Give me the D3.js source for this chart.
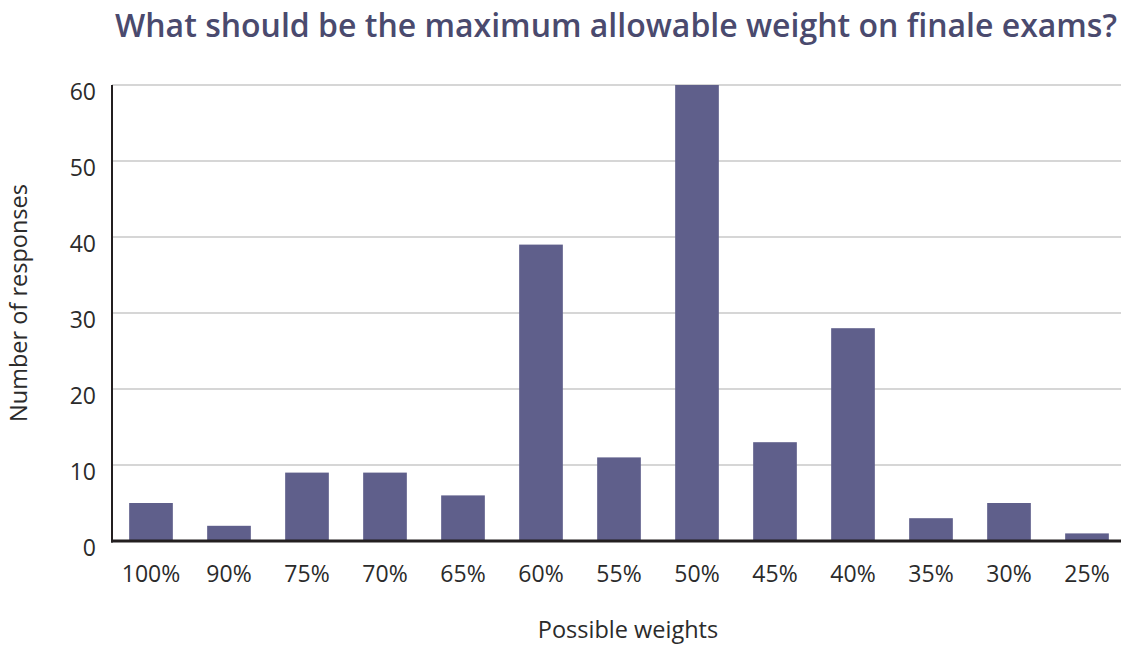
<!DOCTYPE html>
<html>
  <head>
    <meta charset="utf-8">
    <script src="https://d3js.org/d3.v7.min.js"></script>
    <style>
      body { margin: 0; background: #fff; }
      text { font-family: "Open Sans", sans-serif; }
    </style>
  </head>
  <body>
  <script>
    var categories = ['100%', '90%', '75%', '70%', '65%', '60%', '55%', '50%', '45%', '40%', '35%', '30%', '25%'];
    var responses = [5, 2, 9, 9, 6, 39, 11, 60, 13, 28, 3, 5, 1];
    var yTicks = [0, 10, 20, 30, 40, 50, 60];

    var width = 1121;
    var height = 645;
    var margin = {top: 85, right: 0, bottom: 104, left: 112};

    var svg = d3.select('body').append('svg')
      .attr('width', width)
      .attr('height', height);

    var x = d3.scaleBand()
      .domain(categories)
      .range([margin.left, margin.left + 78 * categories.length])
      .paddingInner(0.44)
      .paddingOuter(0.22);

    var y = d3.scaleLinear()
      .domain([0, 60])
      .range([height - margin.bottom, margin.top]);

    // gridlines
    svg.append('g')
      .selectAll('line')
      .data(yTicks.filter(function(d) { return d > 0; }))
      .enter().append('line')
      .attr('x1', margin.left)
      .attr('x2', width)
      .attr('y1', function(d) { return y(d); })
      .attr('y2', function(d) { return y(d); })
      .style('stroke', '#d6d6d6')
      .style('stroke-width', 2);

    // bars
    svg.append('g')
      .selectAll('rect')
      .data(responses)
      .enter().append('rect')
      .attr('x', function(d, i) { return x(categories[i]); })
      .attr('width', x.bandwidth())
      .attr('y', function(d) { return y(d); })
      .attr('height', function(d) { return y(0) - y(d); })
      .style('fill', '#5f5f8b');

    // axes lines
    svg.append('line')
      .attr('x1', margin.left).attr('x2', margin.left)
      .attr('y1', y(60)).attr('y2', y(0) + 1.5)
      .style('stroke', '#231f20').style('stroke-width', 2);
    svg.append('line')
      .attr('x1', margin.left - 1).attr('x2', width)
      .attr('y1', y(0)).attr('y2', y(0))
      .style('stroke', '#231f20').style('stroke-width', 3);

    // y tick labels
    svg.append('g')
      .selectAll('text')
      .data(yTicks)
      .enter().append('text')
      .attr('x', 96)
      .attr('y', function(d) { return y(d) + 15; })
      .attr('text-anchor', 'end')
      .style('font-size', '23px')
      .style('fill', '#2b2b2b')
      .text(function(d) { return d; });

    // x tick labels
    svg.append('g')
      .selectAll('text')
      .data(categories)
      .enter().append('text')
      .attr('x', function(d) { return x(d) + x.bandwidth() / 2; })
      .attr('y', 582)
      .attr('text-anchor', 'middle')
      .style('font-size', '23px')
      .style('fill', '#2b2b2b')
      .text(function(d) { return d; });

    // axis titles
    svg.append('text')
      .attr('x', 628)
      .attr('y', 638)
      .attr('text-anchor', 'middle')
      .style('font-size', '23.5px')
      .style('fill', '#2b2b2b')
      .text('Possible weights');

    svg.append('text')
      .attr('transform', 'translate(27,303) rotate(-90)')
      .attr('text-anchor', 'middle')
      .style('font-size', '23.5px')
      .style('fill', '#2b2b2b')
      .text('Number of responses');

    // title
    svg.append('text')
      .attr('x', 616)
      .attr('y', 37)
      .attr('text-anchor', 'middle')
      .style('font-size', '32px')
      .style('font-weight', 600)
      .style('fill', '#4a4a6e')
      .text('What should be the maximum allowable weight on finale exams?');
  </script>
  </body>
</html>
